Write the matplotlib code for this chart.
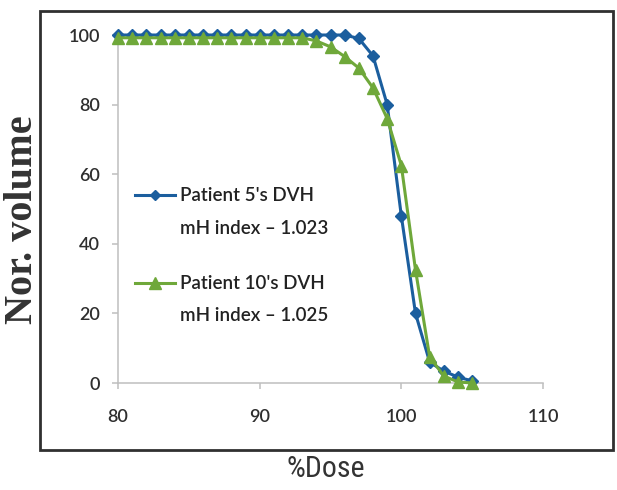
import matplotlib.pyplot as plt
from matplotlib.patches import Rectangle

# %Dose sample points (1 % steps)
dose = [80, 81, 82, 83, 84, 85, 86, 87, 88, 89, 90, 91, 92,
        93, 94, 95, 96, 97, 98, 99, 100, 101, 102, 103, 104, 105]

# normalised volume, patient 5
vol_p5 = [100, 100, 100, 100, 100, 100, 100, 100, 100, 100, 100, 100, 100,
          100, 100, 100, 100, 99, 94, 80, 48, 20, 6, 3.4, 1.7, 0.6]

# normalised volume, patient 10
vol_p10 = [99.2, 99.2, 99.2, 99.2, 99.2, 99.2, 99.2, 99.2, 99.2, 99.2, 99.2, 99.2, 99.2,
           99.2, 98.3, 96.6, 93.8, 90.5, 84.8, 76, 62.5, 32.5, 7.5, 2, 0.3, 0]

labels = ["Patient 5's DVH", "Patient 10's DVH"]
mh_text = ["mH index \u2013 1.023", "mH index \u2013 1.025"]

xticks = [80, 90, 100, 110]
yticks = [0, 20, 40, 60, 80, 100]

blue = '#1B5E9E'
green = '#6FA83A'
axis_gray = '#BFBFBF'

fig = plt.figure(figsize=(6.17, 4.90), dpi=100)

# outer chart border
fig.patches.append(Rectangle((40 / 617, 1 - 450 / 490), 573 / 617, 439 / 490,
                             transform=fig.transFigure, fill=False,
                             edgecolor='#303030', linewidth=2.0))

ax = fig.add_axes([118 / 617, 1 - 383 / 490, 425 / 617, 348 / 490])

ax.plot(dose, vol_p5, color=blue, lw=2.2, marker='D', ms=6.5,
        clip_on=False, zorder=3)
ax.plot(dose, vol_p10, color=green, lw=2.2, marker='^', ms=9,
        clip_on=False, zorder=4)

ax.set_xlim(80, 110)
ax.set_ylim(0, 100)
ax.set_xticks(xticks)
ax.set_yticks(yticks)

for side in ['top', 'right']:
    ax.spines[side].set_visible(False)
for side in ['left', 'bottom']:
    ax.spines[side].set_color(axis_gray)
    ax.spines[side].set_linewidth(1.1)

ax.tick_params(axis='both', colors=axis_gray, labelcolor='#2E2E2E',
               direction='out', length=4, width=1.1, labelsize=13)
ax.tick_params(axis='y', pad=9)
ax.tick_params(axis='x', pad=15)
for t in ax.get_xticklabels() + ax.get_yticklabels():
    t.set_family('Lato')
    t.set_fontweight('semibold')

# legend drawn by hand: handle on the first line, mH index below
leg_rows = [(0.540, 0.445, blue, 'D', 5.5), (0.287, 0.195, green, '^', 8)]
for (y1, y2, col, mk, ms), lab, mh in zip(leg_rows, labels, mh_text):
    ax.plot([0.040, 0.087, 0.134], [y1, y1, y1], color=col, lw=2.2,
            marker=mk, ms=ms, markevery=[1], transform=ax.transAxes)
    ax.text(0.145, y1, lab, transform=ax.transAxes, va='center', ha='left',
            fontsize=13.5, family='Lato', fontweight='semibold', color='#222222')
    ax.text(0.145, y2, mh, transform=ax.transAxes, va='center', ha='left',
            fontsize=13.5, family='Lato', fontweight='semibold', color='#222222')

fig.text(23 / 617, 1 - 220 / 490, 'Nor. volume', rotation=90, ha='center',
         va='center', fontsize=29, fontweight='bold',
         family=['Liberation Serif', 'DejaVu Serif'], color='#333333')
fig.text(326 / 617, 1 - 469 / 490, '%Dose', ha='center', va='center',
         fontsize=21.5,
         family=['Liberation Sans Narrow', 'DejaVu Sans Condensed',
                 'Roboto Condensed', 'Liberation Sans'],
         color='#333333')

fig.savefig('out.png', dpi=100)
